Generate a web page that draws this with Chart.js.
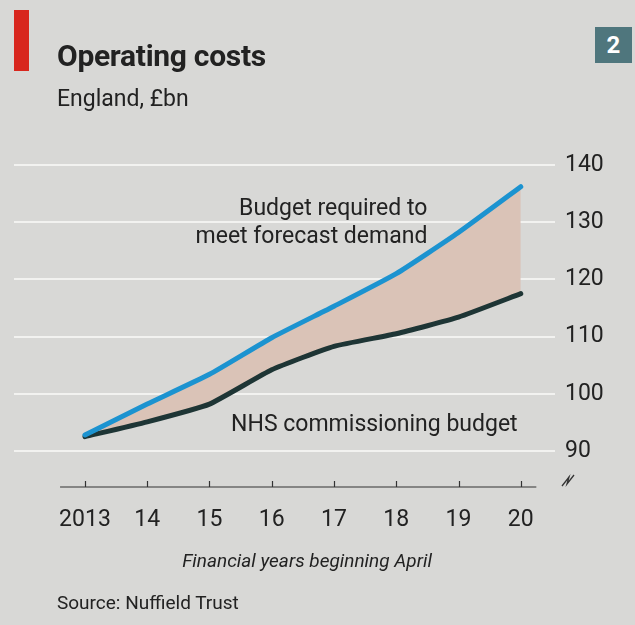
<!DOCTYPE html>
<html>
<head>
<meta charset="utf-8">
<script src="https://cdn.jsdelivr.net/npm/chart.js@4"></script>
<style>
  html, body { margin: 0; padding: 0; }
  body { width: 635px; height: 625px; background: #d8d8d6; position: relative; overflow: hidden; font-family: Roboto, sans-serif; color: #222; }
  #chart { position: absolute; left: 0; top: 0; }
  .bar { position: absolute; left: 14px; top: 10px; width: 15px; height: 61px; background: #d8261d; }
  .num { position: absolute; left: 595px; top: 27px; width: 37px; height: 36px; background: #4f767d; color: #fff; font-weight: bold; font-size: 24px; text-align: center; line-height: 36px; }
  .title { position: absolute; left: 57px; top: 38px; font-size: 30px; font-weight: bold; letter-spacing: -0.3px; }
  .sub { position: absolute; left: 57px; top: 85px; font-size: 23px; }
  .source { position: absolute; left: 57px; top: 591px; font-size: 19px; }
</style>
</head>
<body>
<canvas id="chart" width="635" height="625"></canvas>
<div class="bar"></div>
<div class="num">2</div>
<div class="title">Operating costs</div>
<div class="sub">England, £bn</div>
<div class="source">Source: Nuffield Trust</div>
<script>
const years = [2013, 2014, 2015, 2016, 2017, 2018, 2019, 2020];
const yearLabels = ['2013', '14', '15', '16', '17', '18', '19', '20'];
const required = [92.8, 98.2, 103.4, 109.8, 115.3, 121.0, 128.2, 136.2];
const commissioning = [92.5, 95.1, 98.2, 104.2, 108.3, 110.5, 113.4, 117.5];
const yTicks = [90, 100, 110, 120, 130, 140];

window.addEventListener('DOMContentLoaded', () => {
  const ctx = document.getElementById('chart');

  // axis line, small ticks, axis break mark and line labels
  const extras = {
    id: 'extras',
    afterDatasetsDraw(chart) {
      const c = chart.ctx;
      const x = chart.scales.x;
      const y = chart.scales.y;
      const base = chart.chartArea.bottom;

      c.save();
      c.strokeStyle = '#333';
      c.lineWidth = 1.2;
      c.beginPath();
      c.moveTo(x.getPixelForValue(2012.6), base);
      c.lineTo(x.getPixelForValue(2020.25), base);
      for (const yr of years) {
        const px = Math.round(x.getPixelForValue(yr)) + 0.5;
        c.moveTo(px, base);
        c.lineTo(px, base - 6);
      }
      c.stroke();

      // break symbol
      const bx = chart.chartArea.right + 13;
      const by = base - 6;
      c.lineWidth = 1.3;
      c.beginPath();
      c.moveTo(bx - 6, by + 5);
      c.lineTo(bx + 1, by - 4);
      c.lineTo(bx - 1, by + 3);
      c.lineTo(bx + 6, by - 6);
      c.stroke();

      c.fillStyle = '#222';
      c.font = '23px Roboto';
      c.textAlign = 'right';
      c.textBaseline = 'middle';
      c.fillText('Budget required to', x.getPixelForValue(2018.5), y.getPixelForValue(132.2));
      c.fillText('meet forecast demand', x.getPixelForValue(2018.5), y.getPixelForValue(127.3));
      c.fillText('NHS commissioning budget', x.getPixelForValue(2019.95), y.getPixelForValue(94.5));

      c.textAlign = 'center';
      c.font = 'italic 19px Roboto';
      c.fillText('Financial years beginning April', 307, 562);
      c.restore();
    }
  };

  new Chart(ctx, {
    type: 'line',
    data: {
      datasets: [
        {
          label: 'Budget required to meet forecast demand',
          data: years.map((yr, i) => ({ x: yr, y: required[i] })),
          borderColor: '#1c93d0',
          borderWidth: 5,
          backgroundColor: '#dac3b7',
          fill: { target: 1 },
          pointRadius: 0,
          tension: 0.15,
          borderCapStyle: 'round',
          order: 0
        },
        {
          label: 'NHS commissioning budget',
          data: years.map((yr, i) => ({ x: yr, y: commissioning[i] })),
          borderColor: '#1e3535',
          borderWidth: 5,
          fill: false,
          pointRadius: 0,
          tension: 0.15,
          borderCapStyle: 'round',
          order: 1
        }
      ]
    },
    options: {
      responsive: false,
      animation: false,
      layout: { padding: { left: 14, top: 165, right: 0, bottom: 0 } },
      plugins: {
        legend: { display: false },
        tooltip: { enabled: false },
        filler: { drawTime: 'beforeDatasetsDraw' }
      },
      scales: {
        x: {
          type: 'linear',
          min: 2011.86,
          max: 2020.55,
          afterBuildTicks: (scale) => { scale.ticks = years.map(v => ({ value: v })); },
          afterFit: (scale) => { scale.height = 138; },
          grid: { display: false, drawTicks: false },
          border: { display: false },
          ticks: {
            padding: 19,
            color: '#222',
            font: { family: 'Roboto', size: 23 },
            maxRotation: 0,
            autoSkip: false,
            callback: (v) => yearLabels[years.indexOf(v)]
          }
        },
        y: {
          position: 'right',
          min: 83.7,
          max: 140,
          afterBuildTicks: (scale) => { scale.ticks = yTicks.map(v => ({ value: v })); },
          afterFit: (scale) => { scale.width = 80; },
          grid: { color: '#f2f2f0', lineWidth: 2, drawTicks: false },
          border: { display: false },
          ticks: {
            padding: 10,
            color: '#222',
            font: { family: 'Roboto', size: 23 }
          }
        }
      }
    },
    plugins: [extras]
  });
});
</script>
</body>
</html>
